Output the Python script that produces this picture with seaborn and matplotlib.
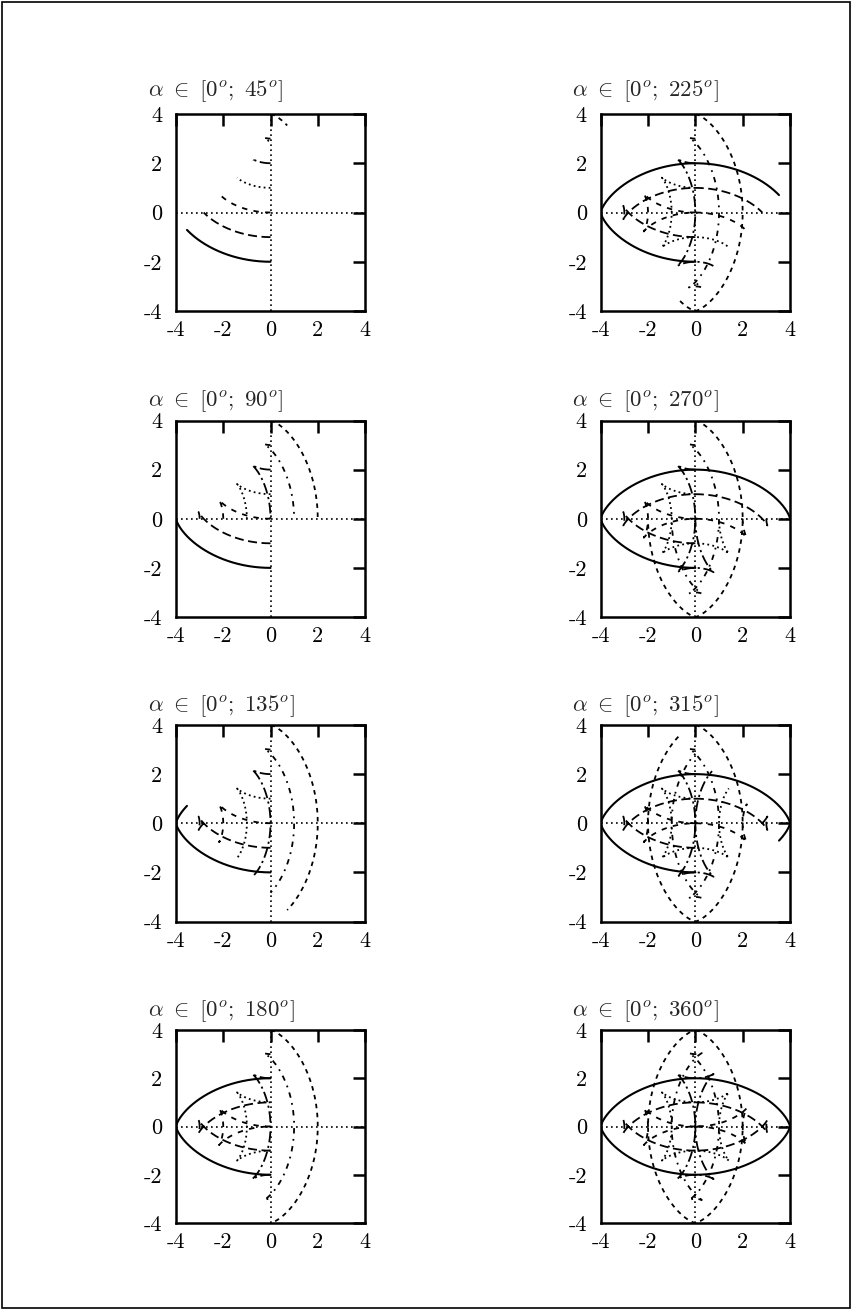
import numpy as np
import matplotlib
matplotlib.use("Agg")
import matplotlib.pyplot as plt
from matplotlib.patches import Rectangle
import seaborn as sns

# Positions along the sliding rod whose paths are traced (one curve each)
ROD_POSITIONS = [-2, -1, 0, 1, 2, 3, 4]
# Upper end of the rotation angle, one panel each (left column, then right column)
ANGLE_LIMITS = [45, 90, 135, 180, 225, 270, 315, 360]
TICKS = [-4, -2, 0, 2, 4]
TICK_LABELS = ["-4", "-2", "0", "2", "4"]

# Dash patterns of the seven paths, in the order of ROD_POSITIONS
LINE_STYLES = [
    "solid",
    (0, (5, 2.5)),
    (0, (3, 3.5)),
    (0, (1, 1.8)),
    (0, (6, 2, 1.2, 2)),
    (0, (3, 3, 1, 3)),
    (0, (2.5, 2.5)),
]

sns.set_style("white")
plt.rcParams["font.family"] = ["cmr10", "DejaVu Serif"]
plt.rcParams["mathtext.fontset"] = "cm"
plt.rcParams["axes.unicode_minus"] = False
plt.rcParams["axes.formatter.use_mathtext"] = True

W, H = 852, 1310
fig = plt.figure(figsize=(W / 100, H / 100), dpi=100)
fig.patch.set_facecolor("white")

# axes boxes in pixels: (left, right) per column, (top, bottom) per row
COLS = [(176, 365), (600.7, 790)]
ROWS = [(114, 311), (420.5, 617), (725, 921.5), (1030, 1223)]
TITLE_X = [148, 572]
TITLE_BASE = [96, 406, 711, 1016]


def rod_path(s, amax):
    a = np.deg2rad(np.linspace(0, amax, int(amax * 4) + 1))
    x = np.sin(a) * (s - 2 - 2 * np.cos(a) ** 2)
    y = np.cos(a) * (s + 2 * np.sin(a) ** 2)
    return x, y


for k, amax in enumerate(ANGLE_LIMITS):
    col, row = divmod(k, 4)
    x0, x1 = COLS[col]
    y0, y1 = ROWS[row]
    ax = fig.add_axes([x0 / W, 1 - y1 / H, (x1 - x0) / W, (y1 - y0) / H])

    ax.axhline(0, color="black", lw=1.2, ls=(0, (1, 2)), zorder=1)
    ax.axvline(0, color="black", lw=1.2, ls=(0, (1, 2)), zorder=1)

    for s, ls in zip(ROD_POSITIONS, LINE_STYLES):
        xs, ys = rod_path(s, amax)
        sns.lineplot(x=xs, y=ys, sort=False, estimator=None, ax=ax,
                     color="black", linewidth=1.5 if ls == "solid" else 1.3,
                     linestyle=ls, zorder=2)

    ax.set_xlim(-4, 4)
    ax.set_ylim(-4, 4)
    ax.set_xticks(TICKS)
    ax.set_yticks(TICKS)
    ax.set_xticklabels(TICK_LABELS)
    ax.set_yticklabels(TICK_LABELS)
    ax.set_xlabel("")
    ax.set_ylabel("")
    ax.tick_params(direction="in", top=True, right=True, length=8.5,
                   width=1.8, labelsize=16, color="black", labelcolor="black")
    ax.tick_params(axis="x", pad=7)
    ax.tick_params(axis="y", pad=10)
    for sp in ax.spines.values():
        sp.set_visible(True)
        sp.set_linewidth(1.8)
        sp.set_color("black")

    fig.text(TITLE_X[col] / W, 1 - TITLE_BASE[row] / H,
             r"$\alpha\ \in\ [0^o;\ %d^o]$" % amax,
             ha="left", va="baseline", fontsize=16.5)

fig.add_artist(Rectangle((2 / W, 2 / H), 1 - 4 / W, 1 - 4 / H,
                         transform=fig.transFigure, fill=False,
                         lw=1.2, edgecolor="black"))

fig.savefig("out.png", dpi=100, facecolor="white")
